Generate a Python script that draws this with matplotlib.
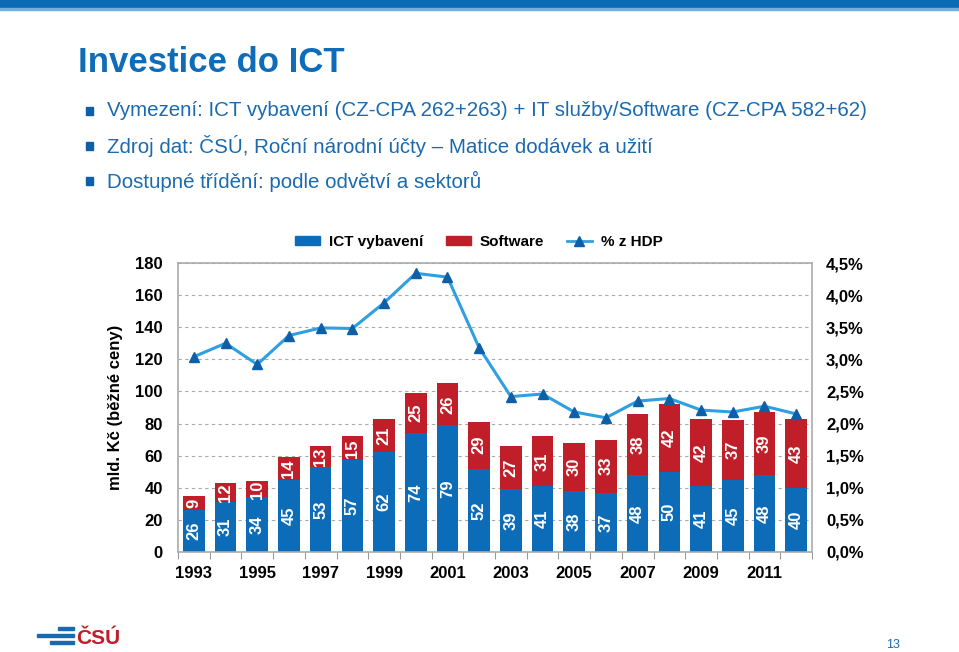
import numpy as np
import matplotlib
matplotlib.use('Agg')
import matplotlib.pyplot as plt
from matplotlib.patches import Rectangle
from matplotlib.lines import Line2D

plt.rcParams['font.family'] = ['Liberation Sans', 'DejaVu Sans']

# Data
roky = list(range(1993, 2013))
ict = [26, 31, 34, 45, 53, 57, 62, 74, 79, 52, 39, 41, 38, 37, 48, 50, 41, 45, 48, 40]
software = [9, 12, 10, 14, 13, 15, 21, 25, 26, 29, 27, 31, 30, 33, 38, 42, 42, 37, 39, 43]
hdp = [3.04, 3.25, 2.92, 3.37, 3.49, 3.48, 3.88, 4.34, 4.28, 3.18,
       2.42, 2.46, 2.18, 2.09, 2.35, 2.39, 2.21, 2.18, 2.27, 2.15]
left_ticks = list(range(0, 181, 20))
right_ticks = [0, 0.5, 1.0, 1.5, 2.0, 2.5, 3.0, 3.5, 4.0, 4.5]

modra = '#0C6CB8'
cervena = '#C01F2A'
linka = '#2E9FE0'
tmava = '#0F5FA8'

fig = plt.figure(figsize=(9.59, 6.52), dpi=100)

# horni pruh
fig.add_artist(Rectangle((0, 1 - 8 / 652), 1, 8 / 652, transform=fig.transFigure,
                         color='#0B6BB5', zorder=0))
fig.add_artist(Rectangle((0, 1 - 10 / 652), 1, 2 / 652, transform=fig.transFigure,
                         color='#6FB0E0', zorder=0))

fig.text(78 / 959, 1 - 62 / 652, 'Investice do ICT', fontsize=25, color='#0F6CB8',
         va='center', ha='left', fontweight='bold')

odrazky = ['Vymezení: ICT vybavení (CZ-CPA 262+263) + IT služby/Software (CZ-CPA 582+62)',
           'Zdroj dat: ČSÚ, Roční národní účty – Matice dodávek a užití',
           'Dostupné třídění: podle odvětví a sektorů']
for i, t in enumerate(odrazky):
    y = 1 - (111 + 35 * i) / 652
    fig.add_artist(Rectangle((86 / 959, y - 4 / 652), 7 / 959, 8 / 652,
                             transform=fig.transFigure, color='#0F5FA8'))
    fig.text(107 / 959, y, t, fontsize=14.8, color='#1A6AB0', va='center', ha='left')

ax = fig.add_axes([178 / 959, 100 / 652, 634 / 959, 289 / 652])
x = np.arange(len(roky))
w = 0.68
ax.bar(x, ict, w, color=modra, zorder=2, label='ICT vybavení')
ax.bar(x, software, w, bottom=ict, color=cervena, zorder=2, label='Software')
for xi, a, b in zip(x, ict, software):
    ax.text(xi, a / 2, str(a), rotation=90, ha='center', va='center',
            color='white', fontsize=12, fontweight='bold', zorder=3)
    ax.text(xi, a + b / 2, str(b), rotation=90, ha='center', va='center',
            color='white', fontsize=12, fontweight='bold', zorder=3)

ax.set_xlim(-0.5, len(roky) - 0.5)
ax.set_ylim(0, 180)
ax.set_yticks(left_ticks)
ax.set_yticklabels([str(v) for v in left_ticks], fontsize=12, fontweight='bold')
ax.yaxis.grid(True, linestyle=(0, (3, 3)), color='#AAAAAA', linewidth=0.8, zorder=0)
ax.set_axisbelow(True)
ax.tick_params(axis='y', length=0, pad=11)
ax.set_xticks(np.arange(-0.5, len(roky), 1))
ax.set_xticklabels([])
ax.tick_params(axis='x', length=5, color='#999999', direction='out')
for xi, r in zip(x, roky):
    if r % 2 == 1:
        ax.text(xi, -9, str(r), ha='center', va='top', fontsize=12, fontweight='bold')
for s in ax.spines.values():
    s.set_color('#AAAAAA')
    s.set_linewidth(1.2)
ax.set_ylabel('mld. Kč (běžné ceny)', fontsize=12, fontweight='bold', labelpad=9)

ax2 = ax.twinx()
ax2.plot(x, hdp, color=linka, linewidth=2.2, marker='^', markersize=7,
         markerfacecolor=tmava, markeredgecolor=tmava, zorder=4)
ax2.set_ylim(0, 4.5)
ax2.set_yticks(right_ticks)
ax2.set_yticklabels([f'{v:.1f}%'.replace('.', ',') for v in right_ticks],
                    fontsize=12, fontweight='bold')
ax2.tick_params(axis='y', length=0, pad=10)
for s in ax2.spines.values():
    s.set_visible(False)

handles = [Rectangle((0, 0), 1, 1, color=modra), Rectangle((0, 0), 1, 1, color=cervena),
           Line2D([], [], color=linka, linewidth=2, marker='^', markersize=7,
                  markerfacecolor=tmava, markeredgecolor=tmava)]
fig.legend(handles, ['ICT vybavení', 'Software', '% z HDP'], loc='center',
           bbox_to_anchor=(479 / 959, 1 - 242 / 652), ncol=3, frameon=False,
           prop={'size': 11, 'weight': 'bold'}, handlelength=1.6, handleheight=0.6,
           columnspacing=1.5, handletextpad=0.6)

# logo a cislo strany
fig.add_artist(Rectangle((37 / 959, 1 - 637 / 652), 37 / 959, 3 / 652,
                         transform=fig.transFigure, color='#1A6AB0'))
fig.add_artist(Rectangle((50 / 959, 1 - 644 / 652), 24 / 959, 3 / 652,
                         transform=fig.transFigure, color='#1A6AB0'))
fig.add_artist(Rectangle((58 / 959, 1 - 630 / 652), 16 / 959, 3 / 652,
                         transform=fig.transFigure, color='#1A6AB0'))
fig.text(76 / 959, 1 - 639 / 652, 'ČSÚ', fontsize=15, fontweight='bold',
         color='#C01F2A', va='center', ha='left')
fig.text(893 / 959, 1 - 645 / 652, '13', fontsize=9, color='#1A6AB0',
         va='center', ha='center')

fig.savefig('out.png', dpi=100)
